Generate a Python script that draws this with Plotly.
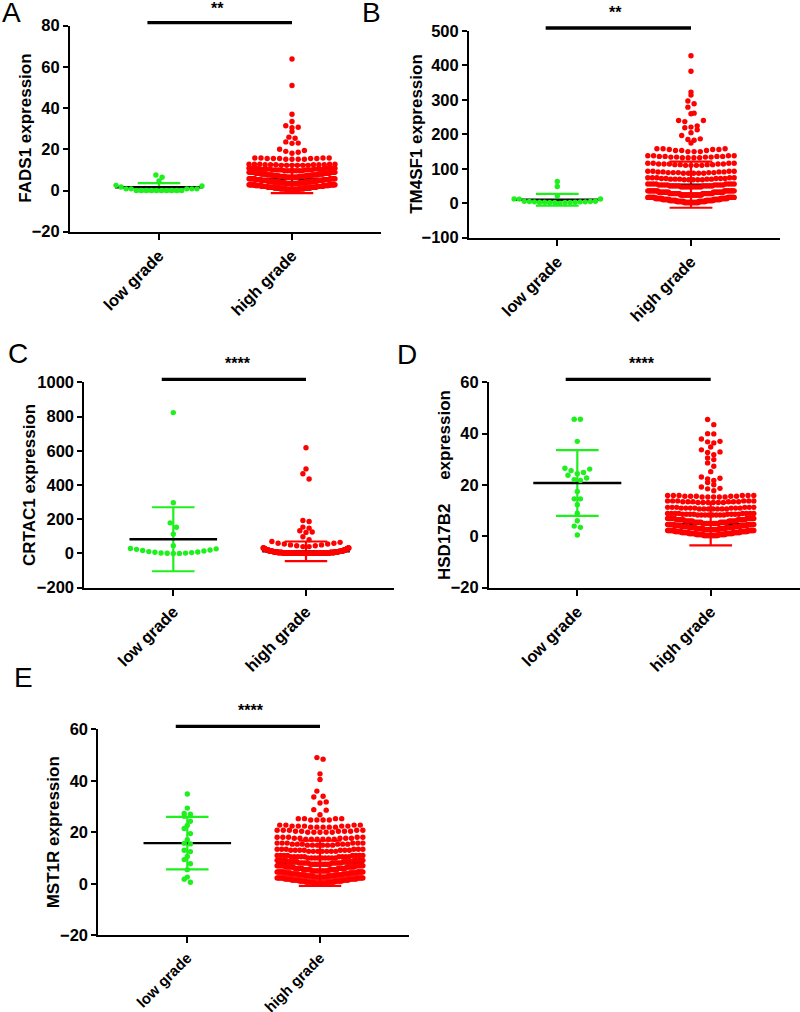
import numpy as np
import plotly.graph_objects as go

# figure fills the whole 800x1012 page (body margin removed after load)
PAGE_W, PAGE_H = 800, 1012
OFF = 0
FW, FH = PAGE_W - 2 * OFF, PAGE_H - 2 * OFF
categories = ["low grade", "high grade"]

# ---------------- data ----------------
# Panel A  FADS1
a_low = [0.0, 0.0, 0.0, 0.0, 0.0, 0.0, 0.0, 0.0, 0.0, 0.0,
         0.8, 0.8, 0.8, 0.8, 0.8, 1.7, 2.2, 2.5, 4.6, 6.4, 7.5]
a_high_vals = [0.4, 0.8, 1.2, 1.6, 2.0, 2.4, 2.8,
               3.3, 3.7, 4.1, 4.5, 4.9, 5.3, 5.7,
               6.4, 6.8, 7.2, 7.6, 8.0, 8.4, 8.8,
               9.6, 10.0, 10.4, 10.8,
               12.2, 12.5, 12.8,
               15.2, 15.5, 15.8,
               18.1, 18.6, 19.0, 19.4, 20.0, 22.9, 23.0, 23.6, 25.4, 25.9,
               28.6, 30.5, 30.7, 31.4, 33.5, 37.0, 51.0, 63.8]
a_high_counts = [17, 17, 17, 17, 17, 17, 18,
                 15, 15, 15, 15, 15, 15, 15,
                 12, 12, 12, 11, 11, 11, 11,
                 7, 7, 8, 8,
                 6, 6, 5,
                 4, 5, 4,
                 1, 1, 1, 1, 1, 1, 1, 1, 1, 1,
                 1, 1, 1, 1, 1, 1, 1, 1]
a_mean = [1.6, 5.6]
a_sd = [2.0, 6.9]

# Panel B  TM4SF1
b_low = [0.5, 2, 2, 2.5, 2.5, 3, 3, 3, 4, 4, 4, 5, 5, 6, 6, 12, 12.5, 12.6,
         21, 48.5, 63]
b_high_vals = [2, 5, 8, 11, 14, 17,
               24, 28, 32, 36,
               47, 50, 53, 56,
               68, 70, 72, 74,
               87, 89, 91, 93,
               110, 112, 114, 116,
               132, 134, 136, 138,
               150, 153, 156, 158,
               175, 183, 185, 187, 196.5, 205, 213, 219, 221, 224.7, 237, 240,
               259.6, 261.6, 279, 289, 297, 314, 322.7, 383, 428]
b_high_counts = [27, 27, 27, 26, 26, 27,
                 22, 22, 22, 22,
                 8, 8, 8, 8,
                 5, 5, 5, 5,
                 5, 5, 4, 4,
                 4, 4, 5, 4,
                 4, 4, 4, 4,
                 3, 3, 3, 3,
                 1, 1, 1, 1, 1, 1, 1, 1, 1, 1, 1, 2,
                 1, 1, 1, 1, 1, 1, 1, 1, 1]
b_mean = [10.0, 54.0]
b_sd = [17.0, 67.0]

# Panel C  CRTAC1
c_low = [0, 0.5, 1, 2, 3, 5, 7, 9, 11, 14, 17, 20, 24, 27, 29,
         45, 113, 153, 179, 297, 823]
c_high_vals = [0.5, 2, 4, 6, 9, 12, 16, 20, 24, 28, 32,
               40, 45, 50, 55, 60, 65, 70,
               80, 98, 123, 125, 133, 148, 154, 187, 193,
               435, 466, 494, 618]
c_high_counts = [80, 70, 50, 40, 30, 25, 20, 15, 12, 10, 8,
                 2, 2, 2, 2, 2, 1, 1,
                 1, 1, 1, 1, 1, 1, 1, 1, 1,
                 1, 1, 1, 1]
c_mean = [83.0, 12.5]
c_sd = [187.0, 57.5]

# Panel D  HSD17B2
d_low = [0.5, 3.5, 4.0, 6.1, 9.0, 12.3, 14.6, 14.6, 17.5,
         21.8, 22.1, 22.7, 23.8, 24.4, 24.9, 25.6, 26.2, 26.5,
         37.0, 45.6, 45.6]
d_high_vals = [0.3, 0.7, 1.1, 1.5, 1.9, 2.3,
               2.6, 3.0, 3.4, 3.8, 4.2, 4.6,
               5.0, 5.5, 6.0, 6.5, 7.0,
               8.3, 8.6, 8.9,
               10.7, 11.0, 11.3,
               13.2, 13.5, 13.8,
               15.3, 15.6, 15.9,
               17.8, 18.5, 18.7, 19.2, 20.1, 21.0, 21.8, 22.4, 22.6, 23.1,
               25.2, 27.3, 28.6, 29.9, 30.5, 31.8, 32.7, 32.9, 33.7, 34.8,
               36.4, 36.8, 37.0, 37.9, 39.9, 40.0, 43.5, 45.5]
d_high_counts = [22, 22, 22, 22, 21, 21,
                 17, 17, 17, 17, 16, 16,
                 10, 10, 10, 10, 10,
                 8, 8, 8,
                 7, 7, 6,
                 6, 6, 6,
                 5, 5, 6,
                 1, 1, 1, 1, 1, 1, 1, 1, 1, 1,
                 1, 1, 1, 1, 1, 1, 1, 1, 1, 1,
                 1, 1, 1, 1, 1, 1, 1, 1]
d_mean = [20.8, 4.8]
d_sd = [12.8, 8.3]

# Panel E  MST1R
e_low = [0.6, 1.8, 2.6, 5.5, 7.8, 9.4, 10.6, 12.5, 13.0, 15.5, 15.7, 17.1,
         19.5, 21.5, 22.7, 24.3, 26.2, 27.0, 27.3, 29.4, 34.9]
e_high_vals = [0.3, 0.7, 1.1, 1.5, 1.9, 2.3,
               2.6, 3.0, 3.4, 3.8, 4.2, 4.6,
               5.0, 5.5, 6.0, 6.5, 7.0,
               7.6, 8.1, 8.6, 9.1,
               10.0, 10.5, 11.0,
               12.6, 13.0, 13.4,
               15.0, 15.4, 15.8,
               17.3, 17.7, 18.1,
               20.0, 20.4, 20.8,
               22.0, 22.4, 22.8,
               24.8, 25.3,
               26.8, 28.6, 28.8, 31.4, 31.8, 33.7, 34.0, 36.0, 40.5, 42.7,
               48.4, 49.0]
e_high_counts = [13, 13, 13, 13, 13, 13,
                 13, 13, 13, 13, 13, 13,
                 12, 12, 12, 12, 12,
                 10, 10, 10, 10,
                 9, 9, 8,
                 7, 7, 6,
                 6, 6, 6,
                 6, 5, 5,
                 5, 5, 5,
                 5, 5, 4,
                 4, 4,
                 1, 1, 1, 1, 1, 1, 1, 1, 1, 1,
                 1, 1]
e_mean = [15.8, 8.0]
e_sd = [10.2, 8.8]

y_titles = ["FADS1 expression", "TM4SF1 expression", "CRTAC1 expression",
            "HSD17B2\u00a0\u00a0\u00a0\u00a0 expression", "MST1R expression"]
y_ranges = [(-20, 80), (-100, 500), (-200, 1000), (-20, 60), (-20, 60)]
y_dticks = [20, 100, 200, 20, 20]
stars = ["**", "**", "****", "****", "****"]
letters = ["A", "B", "C", "D", "E"]

# ---------------- layout geometry (page pixels) ----------------
# (axis left, low tick, high tick, axis right, top tick y, bottom axis y)
boxes = [(70, 159, 292, 381, 25.7, 231.7),
         (469, 557.3, 691, 780, 31, 237.7),
         (84.3, 173.3, 306, 393.5, 382.3, 587.7),
         (489, 577.3, 710.7, 800, 382.3, 587.7),
         (98.3, 187.3, 320, 409, 729.3, 935.3)]
row_px = [6.2, 6.9, 6.2, 6.2, 6.2]
xtick_size = [16.5, 16.5, 16.5, 16.5, 15.0]
title_x = [26, 416.5, 29, 444, 53]
letter_pos = [(11.5, 12.5), (371.5, 12), (17.5, 353), (406.5, 354), (23.5, 677.5)]
star_pos = [(217, 5), (615, 8), (237.7, 359.3), (641.7, 360), (250.7, 706.7)]

GREEN = "#1EF01E"
RED = "#FF0000"
FONT = "Liberation Sans, Arial, sans-serif"
DOT = 5.4
SPACING_PX = 6.2
HALF_W = 0.323


def fx(px):
    return min(max((px - OFF) / FW, 0.0), 1.0)


def fy(py):
    return 1 - (py - OFF) / FH


def swarm(values, center, h, s, half):
    v = np.asarray(values, float)
    bins = np.floor(v / h + 1e-9).astype(int)
    xs = np.zeros_like(v)
    for b in np.unique(bins):
        idx = np.where(bins == b)[0]
        idx = idx[np.argsort(v[idx], kind="stable")]
        n = len(idx)
        sp = s if n == 1 else min(s, 2 * half / (n - 1))
        offs = []
        if n % 2:
            offs.append(0.0)
            k = 1
            while len(offs) < n:
                offs += [k, -k]
                k += 1
        else:
            k = 0.5
            while len(offs) < n:
                offs += [k, -k]
                k += 1
        xs[idx] = center + np.array(offs[:n]) * sp
    return xs


panels = [
    (a_low, a_high_vals, a_high_counts, a_mean, a_sd),
    (b_low, b_high_vals, b_high_counts, b_mean, b_sd),
    (c_low, c_high_vals, c_high_counts, c_mean, c_sd),
    (d_low, d_high_vals, d_high_counts, d_mean, d_sd),
    (e_low, e_high_vals, e_high_counts, e_mean, e_sd),
]

fig = go.Figure()
annotations = []
shapes = []
layout = {}

for i, (low, hv, hc, mean, sd) in enumerate(panels):
    n = "" if i == 0 else str(i + 1)
    xa, ya = "x" + n, "y" + n
    x0, t0, t1, x1, yt, yb = boxes[i]
    x1 = min(x1, OFF + FW)
    dt = t1 - t0
    xr = [(x0 - t0) / dt, (x1 - t0) / dt]
    ymin, ymax = y_ranges[i]
    h = row_px[i] * (ymax - ymin) / (yb - yt)
    s = SPACING_PX / dt

    high = np.repeat(np.asarray(hv, float), np.asarray(hc, int))
    groups = [(np.asarray(low, float), 0, GREEN), (high, 1, RED)]

    for vals, g, col in groups:
        m, d = mean[g], sd[g]
        fig.add_trace(go.Scatter(
            x=[g, g, None, g - 0.16, g + 0.16, None, g - 0.16, g + 0.16],
            y=[m - d, m + d, None, m + d, m + d, None, m - d, m - d],
            mode="lines", line=dict(color=col, width=2.2),
            xaxis=xa, yaxis=ya, showlegend=False, hoverinfo="skip"))
        fig.add_trace(go.Scatter(
            x=[g - 0.33, g + 0.33], y=[m, m], mode="lines",
            line=dict(color="black", width=2.4),
            xaxis=xa, yaxis=ya, showlegend=False, hoverinfo="skip"))
    for vals, g, col in groups:
        xs = swarm(vals, g, h, s, HALF_W)
        fig.add_trace(go.Scatter(
            x=xs, y=vals, mode="markers",
            marker=dict(color=col, size=DOT, line=dict(width=0)),
            xaxis=xa, yaxis=ya, showlegend=False,
            name=categories[g]))

    layout["xaxis" + n] = dict(
        domain=[fx(x0), fx(x1)], range=xr, anchor=ya, automargin=False,
        tickmode="array", tickvals=[0, 1], ticktext=categories, tickangle=-45,
        showline=True, linecolor="black", linewidth=2,
        ticks="outside", ticklen=6, tickwidth=2, tickcolor="black",
        tickfont=dict(family=FONT, size=xtick_size[i], color="black", weight="bold"),
        showgrid=False, zeroline=False, fixedrange=True)
    layout["yaxis" + n] = dict(
        domain=[fy(yb), fy(yt)], range=[ymin, ymax], anchor=xa, automargin=False,
        tick0=0, dtick=y_dticks[i],
        showline=True, linecolor="black", linewidth=2,
        ticks="outside", ticklen=5, tickwidth=2, tickcolor="black",
        tickfont=dict(family=FONT, size=16.5, color="black", weight="bold"),
        showgrid=False, zeroline=False, fixedrange=True)

    annotations.append(dict(
        x=fx(title_x[i]), y=fy((yt + yb) / 2), xref="paper", yref="paper",
        text=y_titles[i], textangle=-90, showarrow=False,
        xanchor="center", yanchor="middle",
        font=dict(family=FONT, size=17, color="black", weight="bold")))
    lx, ly = letter_pos[i]
    annotations.append(dict(
        x=fx(lx), y=fy(ly), xref="paper", yref="paper", text=letters[i],
        showarrow=False, xanchor="center", yanchor="middle",
        font=dict(family=FONT, size=28, color="black")))

    bar_y = yt - 3
    shapes.append(dict(type="line", xref="paper", yref="paper",
                       x0=fx(t0 - 0.087 * dt), x1=fx(t1),
                       y0=fy(bar_y), y1=fy(bar_y),
                       line=dict(color="black", width=3.3)))
    sx, sy = star_pos[i]
    annotations.append(dict(
        x=fx(sx), y=fy(sy + 4), xref="paper", yref="paper", text=stars[i],
        showarrow=False, xanchor="center", yanchor="middle",
        font=dict(family=FONT, size=16, color="black", weight="bold")))

fig.update_layout(
    width=FW, height=FH, autosize=False,
    margin=dict(l=0, r=0, t=0, b=0, pad=0, autoexpand=False),
    paper_bgcolor="white", plot_bgcolor="white",
    showlegend=False, annotations=annotations, shapes=shapes,
    **layout)

fig.write_html("out.html", config={"displayModeBar": False},
               post_script="document.body.style.margin='0px';"
                           "document.body.style.overflow='hidden';")
